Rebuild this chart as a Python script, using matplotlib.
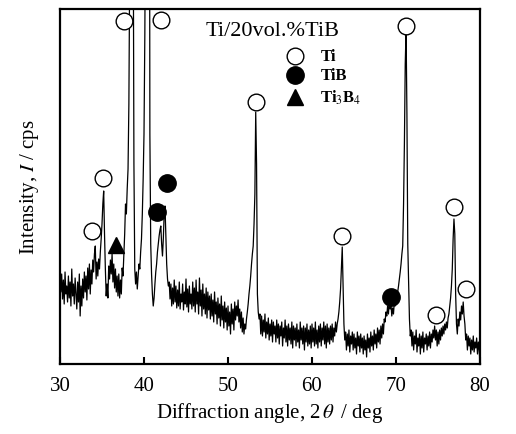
import matplotlib
matplotlib.use('Agg')
import matplotlib.pyplot as plt
import numpy as np

plt.rcParams['font.family'] = ['Liberation Serif', 'DejaVu Serif']
plt.rcParams['mathtext.fontset'] = 'stix'

# XRD scan, 30-80 deg in 0.1 deg steps, intensity (arb. cps)
int_30_40 = [98, 72, 90, 65, 84, 60, 92, 70, 78, 62, 88, 66, 82, 58, 95, 68, 80, 60, 86, 70,
             55, 82, 62, 90, 48, 78, 58, 85, 66, 92, 72, 88, 64, 96, 75, 100, 70, 94, 80, 104,
             92, 110, 118, 85, 102, 88, 105, 95, 112, 125, 140, 160, 173, 130, 95, 68, 80, 66, 98, 85,
             104, 90, 110, 82, 100, 76, 95, 72, 88, 68, 90, 66, 84, 70, 96, 88, 110, 130, 160, 150,
             175, 195, 260, 400, 700, 900, 900, 500, 200, 95, 80, 92, 75, 88, 100, 95, 112, 125, 150, 185]
int_40_50 = [230, 330, 500, 900, 900, 900, 900, 230, 120, 90, 70, 58, 66, 80, 92, 100, 112, 120, 128, 134,
             138, 120, 108, 125, 150, 158, 130, 100, 85, 78, 82, 65, 80, 58, 76, 60, 84, 62, 78, 56,
             74, 58, 82, 55, 70, 62, 80, 54, 72, 60, 85, 57, 75, 52, 78, 60, 70, 55, 82, 58,
             76, 52, 84, 60, 72, 50, 86, 58, 74, 48, 80, 55, 70, 50, 76, 46, 72, 54, 68, 45,
             70, 48, 64, 42, 72, 50, 62, 40, 66, 46, 60, 38, 68, 44, 58, 36, 62, 42, 56, 34]
int_50_60 = [58, 38, 52, 30, 60, 40, 55, 34, 62, 44, 58, 48, 64, 42, 55, 36, 52, 32, 46, 30,
             40, 35, 45, 52, 60, 70, 78, 88, 100, 110, 118, 140, 170, 252, 200, 70, 52, 45, 50, 30,
             48, 28, 44, 32, 50, 26, 42, 30, 46, 24, 40, 28, 44, 22, 42, 30, 38, 22, 44, 26,
             40, 20, 38, 28, 42, 18, 36, 26, 44, 22, 38, 18, 40, 24, 36, 20, 42, 16, 38, 24,
             36, 18, 40, 22, 34, 16, 42, 24, 36, 20, 38, 14, 36, 22, 40, 18, 34, 20, 38, 16]
int_60_70 = [40, 22, 36, 18, 42, 20, 34, 16, 38, 22, 40, 18, 36, 24, 42, 20, 38, 16, 40, 22,
             36, 20, 38, 24, 40, 22, 36, 28, 42, 32, 40, 45, 52, 62, 75, 95, 117, 80, 40, 24,
             32, 14, 30, 18, 34, 12, 28, 20, 32, 14, 30, 16, 26, 10, 32, 18, 28, 12, 30, 16,
             26, 10, 28, 14, 24, 7, 30, 16, 26, 12, 32, 18, 28, 14, 34, 20, 30, 16, 36, 22,
             34, 20, 38, 26, 40, 30, 45, 42, 52, 48, 58, 50, 62, 55, 60, 48, 56, 50, 62, 58]
int_70_80 = [66, 62, 72, 78, 85, 92, 100, 110, 118, 160, 220, 300, 335, 250, 120, 82, 45, 28, 34, 18,
             32, 14, 28, 20, 34, 12, 26, 18, 30, 10, 28, 16, 32, 12, 26, 20, 30, 14, 28, 18,
             32, 16, 30, 22, 34, 26, 38, 24, 34, 18, 32, 20, 34, 24, 36, 28, 38, 30, 40, 34,
             42, 36, 46, 50, 58, 66, 78, 95, 125, 145, 130, 70, 40, 30, 45, 38, 52, 44, 58, 50,
             62, 48, 40, 24, 30, 14, 28, 18, 26, 10, 24, 14, 28, 12, 22, 16, 26, 10, 22, 14,
             0]

two_theta = np.linspace(30, 80, 501)
intensity = np.concatenate([int_30_40, int_40_50, int_50_60, int_60_70, int_70_80])

# peak markers (2theta, intensity)
ti_x = [33.8, 35.1, 37.6, 42.0, 53.3, 63.6, 71.2, 74.8, 76.9, 78.3]
ti_y = [133, 186, 343, 344, 262, 128, 338, 49, 157, 75]
tib_x = [41.5, 42.7, 69.4]
tib_y = [152, 181, 67]
ti3b4_x = [36.7]
ti3b4_y = [119]

fig = plt.figure(figsize=(5.16, 4.35), dpi=100)
ax = fig.add_axes([60 / 516, 70 / 435, 420 / 516, 355 / 435])

ax.plot(two_theta, intensity, color='k', lw=0.9)

ax.plot(ti_x, ti_y, 'o', ms=12, mfc='white', mec='k', mew=1.0, clip_on=False)
ax.plot(tib_x, tib_y, 'o', ms=12.5, mfc='k', mec='k', clip_on=False)
ax.plot(ti3b4_x, ti3b4_y, '^', ms=11, mfc='k', mec='k', clip_on=False)

ax.set_xlim(30, 80)
ax.set_ylim(0, 355)
ax.set_xticks([30, 40, 50, 60, 70, 80])
ax.set_yticks([])
ax.tick_params(axis='x', direction='in', length=5, width=1.5, labelsize=15, pad=9)
for sp in ax.spines.values():
    sp.set_linewidth(1.6)

ax.set_xlabel(r'Diffraction angle, 2$\,\theta\,$ / deg', fontsize=15, labelpad=3)
ax.set_ylabel(r'Intensity, $I$ / cps', fontsize=15, labelpad=14)

ax.text(0.505, 0.94, 'Ti/20vol.%TiB', transform=ax.transAxes, fontsize=16,
        ha='center', va='center')

# hand-made legend
leg_y = [0.868, 0.814, 0.752]
ax.plot(0.56, leg_y[0], 'o', ms=12, mfc='white', mec='k', mew=1.0, transform=ax.transAxes)
ax.plot(0.56, leg_y[1], 'o', ms=12.5, mfc='k', mec='k', transform=ax.transAxes)
ax.plot(0.56, leg_y[2], '^', ms=11, mfc='k', mec='k', transform=ax.transAxes)
for yy, lab in zip(leg_y, ['Ti', 'TiB', r'Ti$_3$B$_4$']):
    ax.text(0.62, yy, lab, transform=ax.transAxes, fontsize=12, weight='bold',
            ha='left', va='center')

fig.savefig('out.png', dpi=100)
plt.close()
